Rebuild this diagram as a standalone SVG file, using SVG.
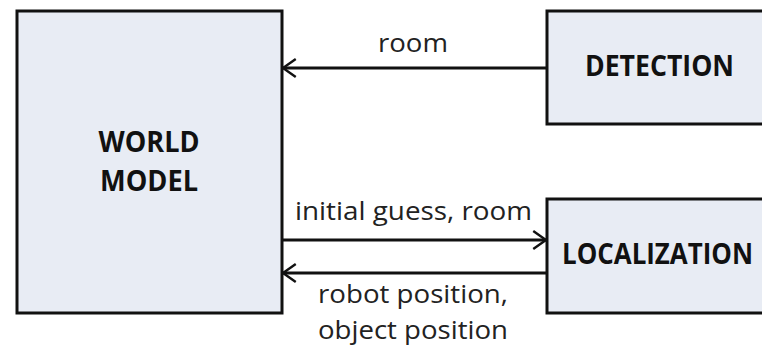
<svg xmlns="http://www.w3.org/2000/svg" width="762" height="350" viewBox="0 0 762 350">
<style>
.box{fill:#e8ecf4;stroke:#111;stroke-width:3}
.lbl{font-family:"Open Sans","Noto Sans",sans-serif;font-weight:bold;font-size:28.5px;fill:#111;text-anchor:middle}
.edge{font-family:"Open Sans","Noto Sans",sans-serif;font-size:25.5px;fill:#222;text-anchor:middle}
.ln{stroke:#111;stroke-width:3;fill:none}
</style>
<defs>
<marker id="ah" viewBox="0 -2 10 14" refX="9.5" refY="5" markerWidth="5" markerHeight="7" orient="auto" markerUnits="strokeWidth">
<path d="M1,-1 L9.5,5 L1,11" fill="none" stroke="#111" stroke-width="1.6"/>
</marker>
</defs>
<rect width="762" height="350" fill="#fff"/>
<g id="world-model">
<rect class="box" x="17" y="11" width="265" height="302"/>
<text class="lbl" x="149" y="152" textLength="101" lengthAdjust="spacingAndGlyphs">WORLD</text>
<text class="lbl" x="149" y="191" textLength="98" lengthAdjust="spacingAndGlyphs">MODEL</text>
</g>
<g id="detection">
<rect class="box" x="547" y="11" width="217" height="113"/>
<text class="lbl" x="659.5" y="76" textLength="149" lengthAdjust="spacingAndGlyphs">DETECTION</text>
</g>
<g id="localization">
<rect class="box" x="547" y="199" width="217" height="114"/>
<text class="lbl" transform="translate(657.5,264) scale(1,1.12)" x="0" y="0" style="font-size:25px" textLength="191" lengthAdjust="spacingAndGlyphs">LOCALIZATION</text>
</g>
<g id="connectors">
<line class="ln" x1="547" y1="68" x2="283" y2="68" marker-end="url(#ah)"/>
<line class="ln" x1="282" y1="240" x2="546" y2="240" marker-end="url(#ah)"/>
<line class="ln" x1="547" y1="273" x2="283" y2="273" marker-end="url(#ah)"/>
<text class="edge" x="413" y="52" textLength="70" lengthAdjust="spacingAndGlyphs">room</text>
<text class="edge" x="413.5" y="220" textLength="237" lengthAdjust="spacingAndGlyphs">initial guess, room</text>
<text class="edge" x="413" y="303" textLength="190" lengthAdjust="spacingAndGlyphs">robot position,</text>
<text class="edge" x="413" y="339" textLength="190" lengthAdjust="spacingAndGlyphs">object position</text>
</g>
</svg>
